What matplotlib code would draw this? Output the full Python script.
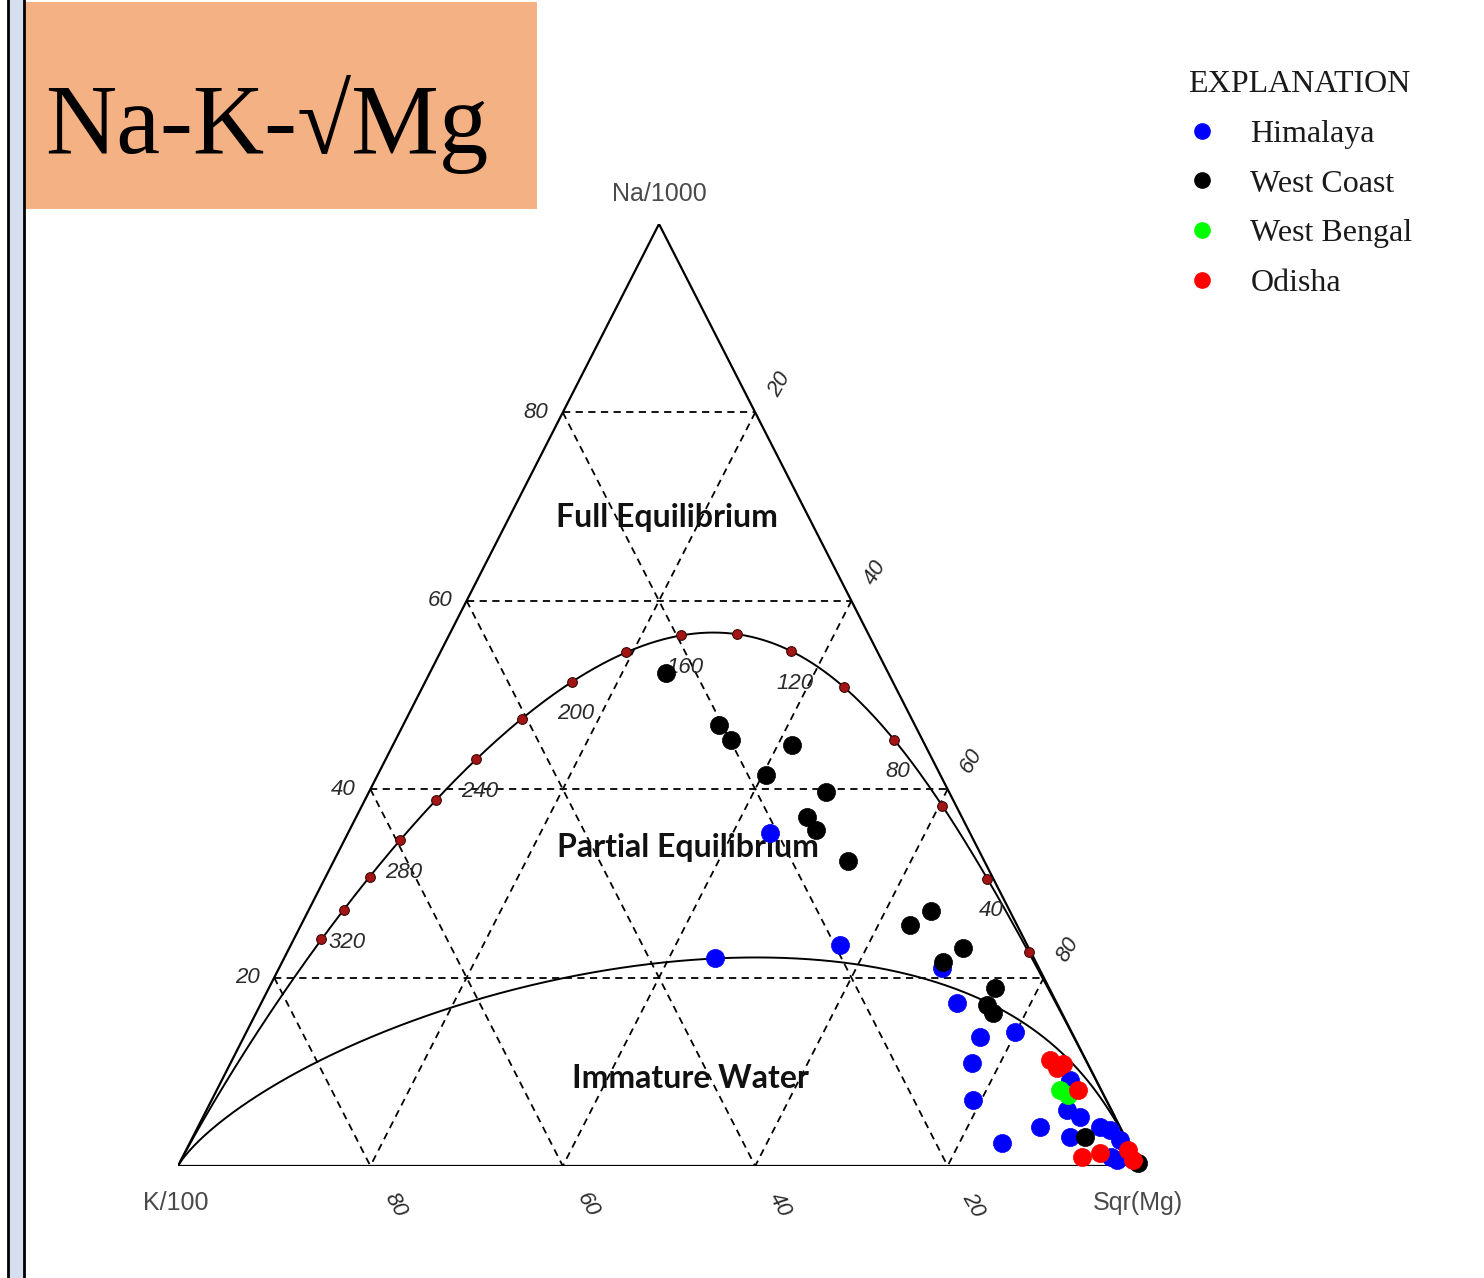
import numpy as np
import matplotlib.pyplot as plt
from matplotlib.patches import Rectangle
from matplotlib.lines import Line2D

# sample compositions, ternary percent (Na/1000, K/100, sqrt(Mg))
himalaya_na = [35.4, 22.1, 23.5, 21.0, 17.3, 13.7, 14.2, 10.9, 7.0, 4.1, 2.4, 5.9, 5.2, 3.1, 4.1, 3.8, 2.8, 0.6, 9.1, 1.0]
himalaya_k = [20.8, 33.1, 19.4, 10.1, 10.4, 9.8, 5.9, 12.0, 13.9, 8.3, 13.1, 4.6, 3.6, 5.7, 2.1, 1.2, 0.7, 2.1, 2.7, 2.5]
himalaya_mg = [43.8, 44.8, 57.1, 68.9, 72.3, 76.5, 79.9, 77.1, 79.1, 87.6, 84.5, 89.5, 91.2, 91.2, 93.8, 95.0, 96.5, 97.3, 88.2, 96.5]

westcoast_na = [52.3, 46.8, 45.2, 44.7, 41.5, 39.7, 37.0, 35.7, 32.4, 25.6, 27.1, 23.1, 21.7, 18.9, 17.1, 16.2, 3.1, 0.3]
westcoast_k = [23.1, 20.4, 19.9, 13.8, 18.1, 12.8, 16.1, 15.8, 14.2, 11.1, 8.2, 6.8, 9.6, 5.6, 7.4, 7.2, 4.2, 0.1]
westcoast_mg = [24.6, 32.8, 34.9, 41.5, 40.4, 47.5, 46.9, 48.5, 53.4, 63.3, 64.7, 70.1, 68.7, 75.5, 75.5, 76.6, 92.7, 99.6]

westbengal_na = [8.1, 7.5]
westbengal_k = [4.3, 3.7]
westbengal_mg = [87.6, 88.8]

odisha_na = [11.3, 10.8, 10.4, 8.1, 1.0, 1.4, 0.6, 1.7]
odisha_k = [3.7, 2.6, 3.4, 2.4, 5.5, 3.5, 0.4, 0.4]
odisha_mg = [85.0, 86.6, 86.2, 89.5, 93.5, 95.1, 99.0, 97.9]

# Giggenbach reference lines
temp_marks = [20, 40, 60, 80, 100, 120, 140, 160, 180, 200, 220, 240, 260, 280, 300, 320, 340]
temp_labels = [40, 80, 120, 160, 200, 240, 280, 320]
grid_ticks = [20, 40, 60, 80]


def to_xy(na, k, mg):
    na, k, mg = np.asarray(na, float), np.asarray(k, float), np.asarray(mg, float)
    s = na + k + mg
    y = na / s
    x = mg / s + y / 2
    return x, y


def full_eq(t):
    # Na-K and K-Mg geothermometers, K fixed at 1 mg/kg
    tk = np.asarray(t, float) + 273.0
    na = 10 ** (1390.0 / tk - 1.75)
    mg = 1.0 / 10 ** (14.0 - 4410.0 / tk)
    return to_xy(na / 1000, 1.0 / 100, np.sqrt(mg))


def immature(a):
    # maturity index 2.0 : 0.315*log(K2/Mg) - log(K/Na) = 2
    na = 10 ** (2.0 - 0.315 * a)
    mg = 10 ** (-a)
    return to_xy(na / 1000, 1.0 / 100, np.sqrt(mg))


W, H = 1484, 1278
fig = plt.figure(figsize=(W / 100, H / 100), dpi=100)
fig.patch.set_facecolor('white')

# side band and title box
fig.add_artist(Rectangle((8 / W, 0), 16 / W, 1, transform=fig.transFigure,
                         facecolor='#D6DFF0', edgecolor='none'))
fig.add_artist(Line2D([8 / W, 8 / W], [0, 1], transform=fig.transFigure, color='black', lw=2))
fig.add_artist(Line2D([24 / W, 24 / W], [0, 1], transform=fig.transFigure, color='black', lw=2))
fig.add_artist(Rectangle((25 / W, 1 - 209 / H), 512 / W, 207 / H, transform=fig.transFigure,
                         facecolor='#F4B183', edgecolor='none'))
fig.text(45 / W, 1 - 153 / H, 'Na-K-\u221aMg', family=['Liberation Serif', 'DejaVu Serif'],
         fontsize=71, va='baseline', ha='left', color='black')

ax = fig.add_axes([178 / W, 1 - 1166 / H, 962 / W, 942 / H])
ax.set_xlim(0, 1)
ax.set_ylim(0, 1)
ax.axis('off')

# triangle
ax.plot([0, 1, 0.5, 0], [0, 0, 1, 0], color='black', lw=1.6)

# dashed grid
for v in grid_ticks:
    r = 100 - v
    for a, b in [((v, r, 0), (v, 0, r)), ((r, v, 0), (0, v, r)), ((r, 0, v), (0, r, v))]:
        x, y = to_xy([a[0], b[0]], [a[1], b[1]], [a[2], b[2]])
        ax.plot(x, y, color='black', lw=1.3, ls=(0, (4, 3)))

# full equilibrium and immature lines
t = np.linspace(-40, 3000, 4000)
x, y = full_eq(t)
ax.plot(x, y, color='black', lw=1.4)
x, y = immature(np.linspace(-12, 25, 4000))
ax.plot(x, y, color='black', lw=1.4)

x, y = full_eq(temp_marks)
ax.plot(x, y, ls='', marker='o', ms=7, mfc='#A31515', mec='#3a0a0a', mew=0.8)
x, y = full_eq(temp_labels)
for xi, yi, lab in zip(x, y, temp_labels):
    ax.text(xi + 0.004, yi - 0.034, str(lab), ha='center', va='center', fontsize=16,
            style='italic', color='#2a2a2a', family='Liberation Sans')

# samples
groups = [
    (himalaya_na, himalaya_k, himalaya_mg, '#0000FF', 'Himalaya'),
    (westcoast_na, westcoast_k, westcoast_mg, '#000000', 'West Coast'),
    (westbengal_na, westbengal_k, westbengal_mg, '#00FF00', 'West Bengal'),
    (odisha_na, odisha_k, odisha_mg, '#FF0000', 'Odisha'),
]
for na, k, mg, c, name in groups:
    x, y = to_xy(na, k, mg)
    ax.scatter(x, y, s=170, color=c, edgecolors=c, linewidths=0.5, zorder=5, clip_on=False)

# region names
region_font = dict(family='Lato', fontweight='bold', fontsize=23, ha='center', va='center', color='#111111')
ax.text((667 - 178) / 962, (1166 - 517) / 942, 'Full Equilibrium', **region_font)
ax.text((688 - 178) / 962, (1166 - 848) / 942, 'Partial Equilibrium', **region_font)
ax.text((690 - 178) / 962, (1166 - 1078) / 942, 'Immature Water', **region_font)

# corner labels
corner_font = dict(family='Liberation Sans', fontsize=18, color='#4a4a4a', ha='center', va='center')
ax.text(0.5, 1.032, 'Na/1000', **corner_font)
ax.text(-0.002, -0.039, 'K/100', **corner_font)
ax.text(0.998, -0.039, 'Sqr(Mg)', **corner_font)

# tick labels
tick_font = dict(family='Liberation Sans', fontsize=16, style='italic', color='#2a2a2a',
                 ha='center', va='center')
for v in grid_ticks:
    f = v / 100
    ax.text(f / 2 - 0.028, f, str(v), **tick_font)
    ax.text(0.5 + f / 2 + 0.025, 1 - f + 0.030, str(v), rotation=60, **tick_font)
    ax.text(1 - f + 0.026, -0.041, str(v), rotation=-60, **tick_font)

# legend
handles = [Line2D([], [], ls='', marker='o', ms=11, color=c) for _, _, _, c, _ in groups]
labels = [g[4] for g in groups]
leg = ax.legend(handles, labels, title='EXPLANATION', loc='upper left',
                bbox_to_anchor=(1188 / W, 1 - 70 / H), bbox_transform=fig.transFigure,
                frameon=False, prop={'family': 'Liberation Serif', 'size': 23},
                title_fontproperties={'family': 'Liberation Serif', 'size': 23},
                alignment='left', handlelength=0.9, handletextpad=1.05,
                labelspacing=0.64, borderaxespad=0, borderpad=0)
for txt in leg.get_texts():
    txt.set_color('#1a1a1a')
leg.get_title().set_color('#1a1a1a')

fig.savefig('out.png', dpi=100)
